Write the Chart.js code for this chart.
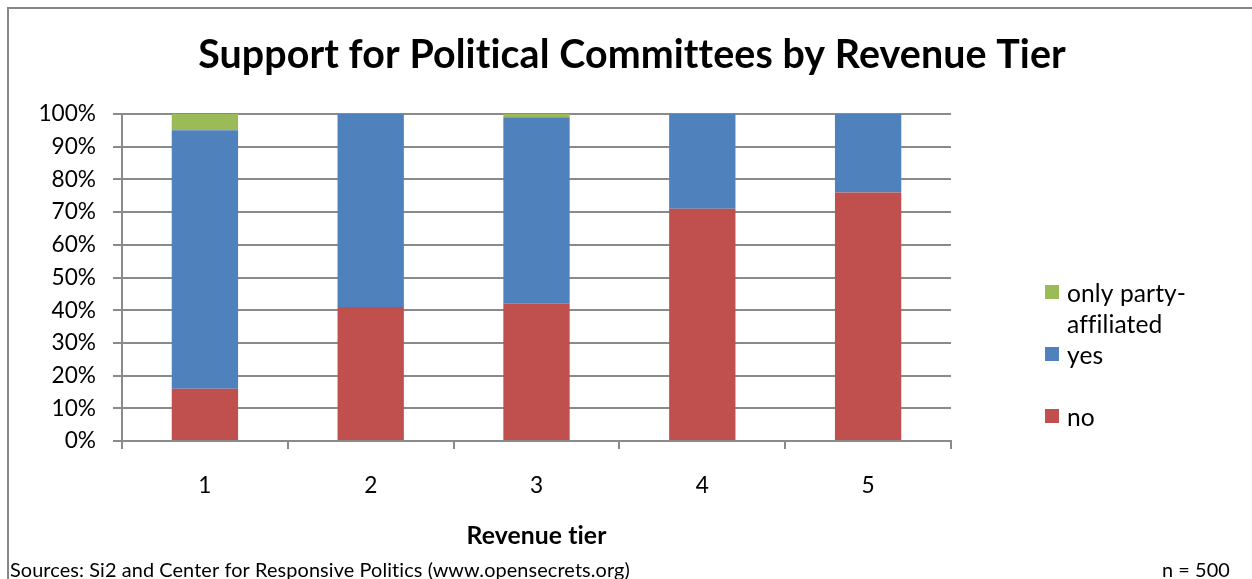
<!DOCTYPE html>
<html>
<head>
<meta charset="utf-8">
<script src="https://cdn.jsdelivr.net/npm/chart.js@4/dist/chart.umd.min.js"></script>
<style>
  html, body { margin: 0; padding: 0; background: #fff; overflow: hidden; }
  canvas { display: block; }
</style>
</head>
<body>
<canvas id="chart" width="1252" height="579"></canvas>
<script>
// Revenue tiers on the x axis
const tiers = ['1', '2', '3', '4', '5'];

// Share of organisations (percent) per tier
const noValues = [16, 41, 42, 71, 76];
const yesValues = [79, 59, 57, 29, 24];
const partyOnlyValues = [5, 0, 1, 0, 0];

// Series names, bottom of the stack first
const seriesNames = ['no', 'yes', 'only party-affiliated'];

// Y axis tick values
const yTickValues = [0, 10, 20, 30, 40, 50, 60, 70, 80, 90, 100];

const titleText = 'Support for Political Committees by Revenue Tier';
const xAxisTitle = 'Revenue tier';
const sourceText = 'Sources: Si2 and Center for Responsive Politics (www.opensecrets.org)';
const sampleText = 'n = 500';

const FAMILY = 'Lato, "Open Sans", sans-serif';
const SPACING = '0.1px';
const GRID = '#8a8a8a';
const COLORS = ['#C0504D', '#4F81BD', '#9BBB59'];

// Font size that makes a string span a given width
const measureCtx = document.createElement('canvas').getContext('2d');
if ('letterSpacing' in measureCtx) measureCtx.letterSpacing = SPACING;
function sizeFor(text, weight, width) {
  measureCtx.font = weight + ' 100px ' + FAMILY;
  const w100 = measureCtx.measureText(text).width;
  measureCtx.font = weight + ' ' + (100 * width / w100) + 'px ' + FAMILY;
  return 100 * width / w100 * width / measureCtx.measureText(text).width;
}

const tickSize = sizeFor('100%', 'normal', 58);
const legendSize = sizeFor('only party-', 'normal', 119);
const titleSize = sizeFor(titleText, 'bold', 868);
const axisTitleSize = sizeFor(xAxisTitle, 'bold', 140);
const sourceSize = sizeFor(sourceText, 'normal', 620);

// Break a legend label after spaces or hyphens so it fits a width
function wrap(ctx, text, maxWidth) {
  const parts = text.match(/[^\s-]+-?\s*/g) || [text];
  const lines = [];
  let line = '';
  for (const p of parts) {
    const test = line + p;
    if (line && ctx.measureText(test.trimEnd()).width > maxWidth) {
      lines.push(line.trimEnd());
      line = p;
    } else {
      line = test;
    }
  }
  if (line) lines.push(line.trimEnd());
  return lines;
}

const decor = {
  id: 'decor',
  beforeDraw(chart) {
    const ctx = chart.ctx;
    ctx.save();
    ctx.fillStyle = '#fff';
    ctx.fillRect(0, 0, chart.width, chart.height);
    // outer frame
    ctx.strokeStyle = '#878787';
    ctx.lineWidth = 2;
    ctx.beginPath();
    ctx.moveTo(8, chart.height);
    ctx.lineTo(8, 8);
    ctx.lineTo(chart.width, 8);
    ctx.stroke();
    ctx.restore();
  },
  afterDraw(chart) {
    const ctx = chart.ctx;
    const area = chart.chartArea;
    ctx.save();
    // a tiny letter spacing keeps "ti"/"ffi" as separate letters
    if ('letterSpacing' in ctx) ctx.letterSpacing = SPACING;
    ctx.fillStyle = '#000';
    ctx.textBaseline = 'alphabetic';

    // chart title
    ctx.textAlign = 'center';
    ctx.font = 'bold ' + titleSize + 'px ' + FAMILY;
    ctx.fillText(titleText, 632, 68);

    // x axis title
    ctx.font = 'bold ' + axisTitleSize + 'px ' + FAMILY;
    ctx.fillText(xAxisTitle, (area.left + area.right) / 2, 544);

    // footnotes
    ctx.font = sourceSize + 'px ' + FAMILY;
    ctx.textAlign = 'left';
    ctx.fillText(sourceText, 10, 577);
    ctx.textAlign = 'right';
    ctx.fillText(sampleText, 1230, 577);

    // legend, top of the stack first
    ctx.textAlign = 'left';
    ctx.font = legendSize + 'px ' + FAMILY;
    const ds = chart.data.datasets;
    const lineH = 31;
    let base = 302;
    for (let i = ds.length - 1; i >= 0; i--) {
      ctx.fillStyle = ds[i].backgroundColor;
      ctx.fillRect(1045, base - 17, 14, 14);
      ctx.fillStyle = '#000';
      const lines = wrap(ctx, ds[i].label, 135);
      lines.forEach((ln, k) => ctx.fillText(ln, 1067, base + k * lineH));
      base += 2 * lineH;
    }
    ctx.restore();
  }
};

const seriesValues = [noValues, yesValues, partyOnlyValues];

new Chart(document.getElementById('chart').getContext('2d'), {
  type: 'bar',
  data: {
    labels: tiers,
    datasets: seriesNames.map((name, i) => ({
      label: name,
      data: seriesValues[i],
      backgroundColor: COLORS[i],
      borderWidth: 0
    }))
  },
  options: {
    responsive: false,
    animation: false,
    devicePixelRatio: 1,
    layout: { padding: { left: 0, top: 114, right: 301, bottom: 0 } },
    datasets: { bar: { barPercentage: 0.4, categoryPercentage: 1 } },
    plugins: {
      legend: { display: false },
      title: { display: false },
      tooltip: { enabled: false }
    },
    scales: {
      x: {
        stacked: true,
        grid: { offset: true, drawOnChartArea: false, drawTicks: true, tickLength: 8, color: GRID, lineWidth: 2 },
        border: { display: true, color: GRID, width: 2 },
        ticks: { color: '#000', font: { family: FAMILY, size: tickSize }, padding: 23 },
        afterFit(scale) { scale.height = 579 - 441; }
      },
      y: {
        stacked: true,
        min: 0,
        max: 100,
        afterBuildTicks(scale) { scale.ticks = yTickValues.map(v => ({ value: v })); },
        ticks: { color: '#000', font: { family: FAMILY, size: tickSize }, padding: 17, callback: v => v + '%' },
        grid: { color: GRID, lineWidth: 2, tickLength: 9 },
        border: { display: true, color: GRID, width: 2 },
        afterFit(scale) { scale.width = 122; }
      }
    }
  },
  plugins: [decor]
});
</script>
</body>
</html>
